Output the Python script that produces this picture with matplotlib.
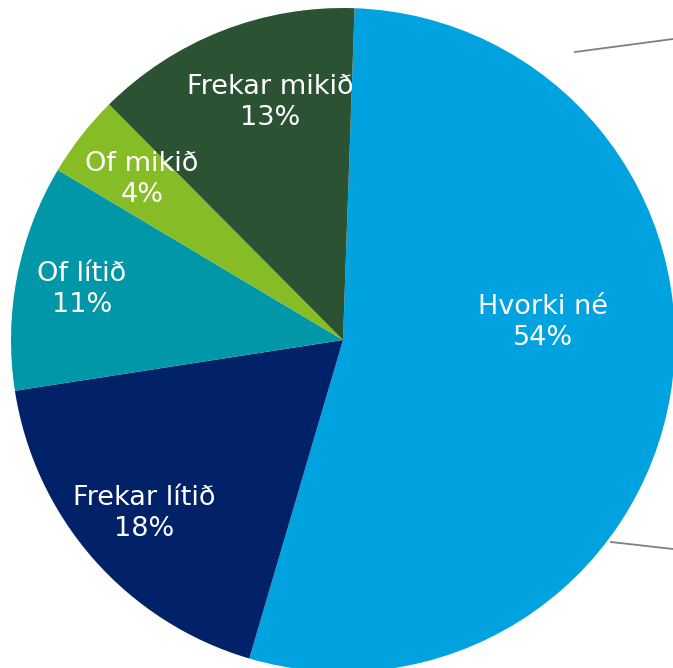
import matplotlib
matplotlib.use("Agg")
import matplotlib.pyplot as plt
from matplotlib.lines import Line2D

categories = ["Hvorki né", "Frekar lítið", "Of lítið", "Of mikið", "Frekar mikið"]
values = [54, 18, 11, 4, 13]
colors = ["#00A3E0", "#012169", "#0097A9", "#86BC25", "#2C5234"]
# label anchor positions (layout, in units of the pie radius)
label_pos = [(0.602, 0.054), (-0.599, -0.524), (-0.786, 0.151), (-0.605, 0.482), (-0.220, 0.714)]

W, H = 673, 668
fig = plt.figure(figsize=(W / 100, H / 100), dpi=100)
ax = fig.add_axes([0, 0, 1, 1])
R = 332.0
cx, cy = 343.0, 340.0
ax.pie(values, colors=colors, startangle=88, counterclock=False, radius=1,
       wedgeprops=dict(linewidth=0))
ax.set_xlim(-cx / R, (W - cx) / R)
ax.set_ylim(-(H - cy) / R, cy / R)
ax.set_aspect("auto")
ax.axis("off")

for cat, v, (x, y) in zip(categories, values, label_pos):
    ax.text(x, y, f"{cat}\n{v}%", ha="center", va="center", color="white",
            fontsize=19.5, family="DejaVu Sans", linespacing=1.25)

# connector lines leaving the figure (pie-of-pie style)
fig.add_artist(Line2D([575 / W, 1.0], [1 - 52 / H, 1 - 39 / H], color="#7F7F7F", lw=1.3))
fig.add_artist(Line2D([611 / W, 1.0], [1 - 542 / H, 1 - 549 / H], color="#7F7F7F", lw=1.3))

fig.savefig("out.png", dpi=100)
